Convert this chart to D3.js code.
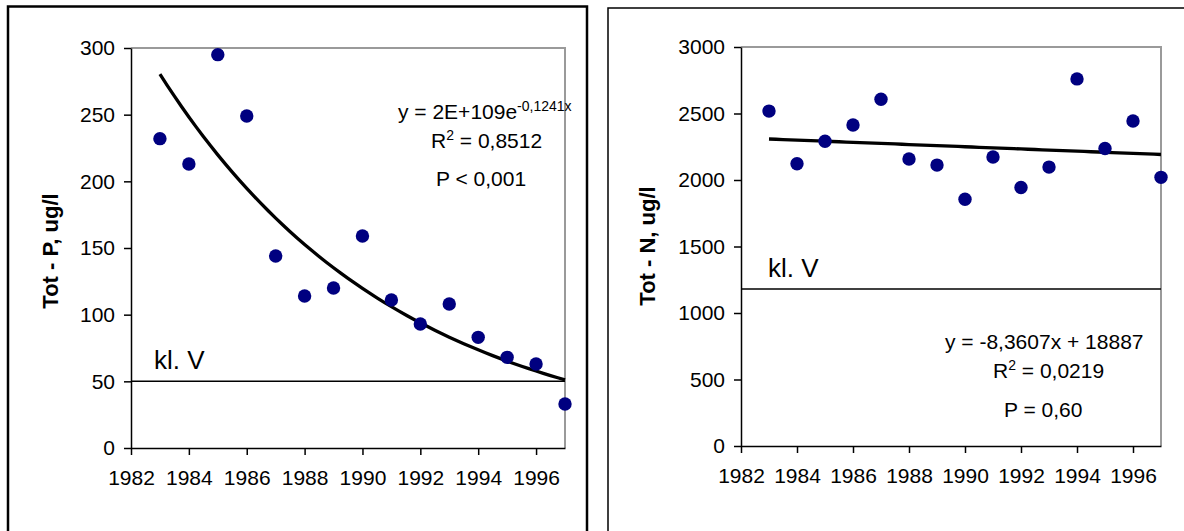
<!DOCTYPE html>
<html>
<head>
<meta charset="utf-8">
<title>Tot-P / Tot-N</title>
<script src="https://d3js.org/d3.v7.min.js"></script>
<style>
  body { margin: 0; background: #fff; }
  svg { display: block; }
  text { font-family: "Liberation Sans", Arial, sans-serif; fill: #000; }
  .tick line, .domain { stroke: #000; stroke-width: 1.5px; }
</style>
</head>
<body>
<div id="chart"></div>
<script>
// data
const years = [1983, 1984, 1985, 1986, 1987, 1988, 1989, 1990, 1991, 1992, 1993, 1994, 1995, 1996, 1997];
const totP = [232, 213, 295, 249, 144, 114, 120, 159, 111, 93, 108, 83, 68, 63, 33];
const totN = [2518, 2122, 2291, 2413, 2607, 2158, 2112, 1855, 2173, 1944, 2097, 2760, 2237, 2444, 2020];
const yearTicks = [1982, 1984, 1986, 1988, 1990, 1992, 1994, 1996];
const pTicks = [0, 50, 100, 150, 200, 250, 300];
const nTicks = [0, 500, 1000, 1500, 2000, 2500, 3000];
const klassP = 50;
const klassN = 1180;
const pLabels = ["y = 2E+109e", "-0,1241x", "R", "2", " = 0,8512", "P < 0,001"];
const nLabels = ["y = -8,3607x + 18887", "R", "2", " = 0,0219", "P = 0,60"];

const W = 1184, H = 531;
const svg = d3.select('#chart').append('svg').attr('width', W).attr('height', H);

// least squares helpers (Excel style trendlines)
function linFit(xs, ys) {
  const mx = d3.mean(xs), my = d3.mean(ys);
  let sxy = 0, sxx = 0;
  xs.forEach((x, i) => { sxy += (x - mx) * (ys[i] - my); sxx += (x - mx) * (x - mx); });
  const b = sxy / sxx;
  return x => my + b * (x - mx);
}
function expFit(xs, ys) {
  const f = linFit(xs, ys.map(Math.log));
  return x => Math.exp(f(x));
}

// panel frames
svg.append('rect').attr('x', 8).attr('y', 6.5).attr('width', 579).attr('height', 540)
  .attr('fill', 'none').attr('stroke', '#000').attr('stroke-width', 2.5);
svg.append('rect').attr('x', 608).attr('y', 8).attr('width', 600).attr('height', 540)
  .attr('fill', 'none').attr('stroke', '#000').attr('stroke-width', 1.5);

function drawPanel(opt) {
  const x = d3.scaleLinear().domain([1982, 1997]).range([opt.left, opt.right]);
  const y = d3.scaleLinear().domain([0, opt.max]).range([opt.bottom, opt.top]);
  const g = svg.append('g');

  // grey frame top/right
  g.append('path')
    .attr('d', `M${opt.left},${opt.top}H${opt.right}V${opt.bottom}`)
    .attr('fill', 'none').attr('stroke', '#9a9a9a').attr('stroke-width', 2);

  const ya = g.append('g').attr('transform', `translate(${opt.left},0)`)
    .call(d3.axisLeft(y).tickValues(opt.ticks).tickFormat(d3.format('d'))
      .tickSize(7).tickSizeOuter(0).tickPadding(9));
  const xa = g.append('g').attr('transform', `translate(0,${opt.bottom})`)
    .call(d3.axisBottom(x).tickValues(yearTicks).tickFormat(d3.format('d'))
      .tickSize(7).tickSizeOuter(0).tickPadding(15));
  [ya, xa].forEach(a => a.attr('font-family', null).attr('font-size', 21)
    .selectAll('text').style('font-family', '"Liberation Sans", Arial, sans-serif'));

  // class V line
  g.append('line')
    .attr('x1', x(1982)).attr('x2', x(1997)).attr('y1', y(opt.klass)).attr('y2', y(opt.klass))
    .attr('stroke', '#000').attr('stroke-width', 1.5);
  g.append('text').attr('x', opt.klX).attr('y', y(opt.klass) - 12)
    .style('font-size', '26px').text('kl. V');

  // trend line
  const xs = d3.range(1983, 1997.001, 0.25);
  g.append('path').datum(xs)
    .attr('d', d3.line().x(d => x(d)).y(d => y(opt.fit(d))))
    .attr('fill', 'none').attr('stroke', '#000').attr('stroke-width', 3.3);

  // points
  g.selectAll('circle.pt').data(opt.values).enter().append('circle')
    .attr('class', 'pt')
    .attr('cx', (d, i) => x(years[i])).attr('cy', d => y(d)).attr('r', 6.7)
    .attr('fill', '#000080');

  // axis title
  g.append('text')
    .attr('transform', `translate(${opt.titleX},${opt.titleY}) rotate(-90)`)
    .attr('text-anchor', 'middle').style('font-size', '22px').style('font-weight', 'bold')
    .text(opt.title);
  return g;
}

function label(g, x, y, parts) {
  const t = g.append('text').attr('x', x).attr('y', y).style('font-size', '21px');
  t.append('tspan').text(parts[0]);
  if (parts.length > 1) t.append('tspan').attr('dy', -8).style('font-size', '14px').text(parts[1]);
  if (parts.length > 2) t.append('tspan').attr('dy', 8).text(parts[2]);
}

const gp = drawPanel({
  left: 131, right: 565, top: 48, bottom: 448, max: 300, ticks: pTicks,
  values: totP, klass: klassP, klX: 154, fit: expFit(years, totP),
  title: 'Tot - P, ug/l', titleX: 58, titleY: 251
});
label(gp, 398, 119, [pLabels[0], pLabels[1]]);
label(gp, 431, 148, [pLabels[2], pLabels[3], pLabels[4]]);
label(gp, 436, 186, [pLabels[5]]);

const gn = drawPanel({
  left: 741, right: 1161, top: 47, bottom: 446, max: 3000, ticks: nTicks,
  values: totN, klass: klassN, klX: 768, fit: linFit(years, totN),
  title: 'Tot - N, ug/l', titleX: 655, titleY: 246
});
label(gn, 945, 349, [nLabels[0]]);
label(gn, 993, 378, [nLabels[1], nLabels[2], nLabels[3]]);
label(gn, 1004, 417, [nLabels[4]]);
</script>
</body>
</html>
